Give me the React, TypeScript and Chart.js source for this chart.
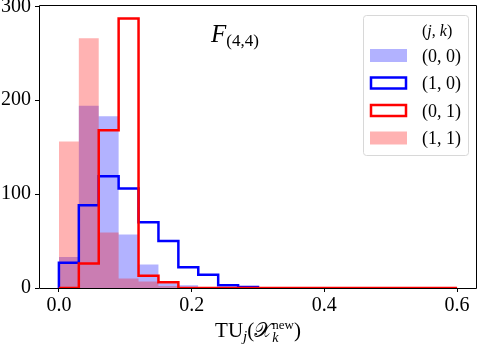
import React, { useEffect, useRef } from "react";
import { Chart, registerables } from "chart.js";

Chart.register(...registerables);

// Bin edges of the histograms (width 0.03)
const binEdges = [
  0, 0.03, 0.06, 0.09, 0.12, 0.15, 0.18, 0.21, 0.24, 0.27, 0.3,
  0.33, 0.36, 0.39, 0.42, 0.45, 0.48, 0.51, 0.54, 0.57, 0.6,
];

// Counts per bin for each (j, k) series
const counts00 = [33, 194, 183, 57, 25, 5, 3]; // filled blue
const counts10 = [27, 88, 119, 106, 70, 50, 22, 14, 3, 1]; // blue step
const counts01 = [0, 26, 168, 287, 13, 6, 0, 0, 0, 0, 0, 0, 0, 0, 0, 0, 0, 0, 0, 0]; // red step
const counts11 = [156, 266, 59, 10, 7, 2]; // filled red

const xTicks = [0, 0.2, 0.4, 0.6];
const xTickLabels = ["0.0", "0.2", "0.4", "0.6"];
const yTicks = [0, 100, 200, 300];
const yTickLabels = ["0", "100", "200", "300"];
const legendLabels = ["(0, 0)", "(1, 0)", "(0, 1)", "(1, 1)"];

const SERIF = "'Liberation Serif', 'DejaVu Serif', serif";

function stepPoints(counts: number[]) {
  const pts: { x: number; y: number }[] = [{ x: binEdges[0], y: 0 }];
  counts.forEach((c, i) => {
    pts.push({ x: binEdges[i], y: c });
    pts.push({ x: binEdges[i + 1], y: c });
  });
  pts.push({ x: binEdges[counts.length], y: 0 });
  return pts;
}

type Run = { text: string; font: string; dy?: number; stack?: { text: string; font: string; dy: number }[] };

function runsWidth(ctx: CanvasRenderingContext2D, runs: Run[]) {
  let w = 0;
  for (const r of runs) {
    if (r.stack) {
      let m = 0;
      for (const s of r.stack) {
        ctx.font = s.font;
        m = Math.max(m, ctx.measureText(s.text).width);
      }
      w += m;
    } else {
      ctx.font = r.font;
      w += ctx.measureText(r.text).width;
    }
  }
  return w;
}

function drawRuns(ctx: CanvasRenderingContext2D, runs: Run[], x: number, y: number) {
  let cx = x;
  for (const r of runs) {
    if (r.stack) {
      let m = 0;
      for (const s of r.stack) {
        ctx.font = s.font;
        ctx.fillText(s.text, cx, y + s.dy);
        m = Math.max(m, ctx.measureText(s.text).width);
      }
      cx += m;
    } else {
      ctx.font = r.font;
      ctx.fillText(r.text, cx, y + (r.dy || 0));
      cx += ctx.measureText(r.text).width;
    }
  }
}

const overlayPlugin = {
  id: "overlay",
  afterDraw(chart: any) {
    const ctx: CanvasRenderingContext2D = chart.ctx;
    const a = chart.chartArea;
    ctx.save();
    // spines
    ctx.strokeStyle = "#000";
    ctx.lineWidth = 1;
    ctx.beginPath();
    ctx.rect(Math.round(a.left) + 0.5, Math.round(a.top) + 0.5, Math.round(a.right - a.left) - 1, Math.round(a.bottom - a.top));
    ctx.stroke();

    ctx.fillStyle = "#000";
    ctx.textBaseline = "alphabetic";
    ctx.textAlign = "left";

    // in-plot title F_(4,4)
    drawRuns(ctx, [
      { text: "F", font: `italic 25px ${SERIF}` },
      { text: "(4,4)", font: `17px ${SERIF}`, dy: 4 },
    ], 211, 42);

    // x axis label
    const xl: Run[] = [
      { text: "TU", font: `21px ${SERIF}` },
      { text: "j", font: `italic 15px ${SERIF}`, dy: 4 },
      { text: "(", font: `21px ${SERIF}` },
      { text: "\u{1D4B3}", font: `21px ${SERIF}` },
      {
        text: "", font: "", stack: [
          { text: "k", font: `italic 14px ${SERIF}`, dy: 5 },
          { text: "new", font: `13px ${SERIF}`, dy: -8 },
        ],
      },
      { text: ")", font: `21px ${SERIF}` },
    ];
    const w = runsWidth(ctx, xl);
    drawRuns(ctx, xl, (a.left + a.right) / 2 - w / 2, 337);

    // legend
    const lx = 363.5, ly = 15.5, lw = 105, lh = 140, r = 3;
    ctx.beginPath();
    ctx.moveTo(lx + r, ly);
    ctx.lineTo(lx + lw - r, ly);
    ctx.arcTo(lx + lw, ly, lx + lw, ly + r, r);
    ctx.lineTo(lx + lw, ly + lh - r);
    ctx.arcTo(lx + lw, ly + lh, lx + lw - r, ly + lh, r);
    ctx.lineTo(lx + r, ly + lh);
    ctx.arcTo(lx, ly + lh, lx, ly + lh - r, r);
    ctx.lineTo(lx, ly + r);
    ctx.arcTo(lx, ly, lx + r, ly, r);
    ctx.closePath();
    ctx.fillStyle = "rgba(255,255,255,0.8)";
    ctx.fill();
    ctx.strokeStyle = "#d8d8d8";
    ctx.lineWidth = 1;
    ctx.stroke();

    ctx.fillStyle = "#000";
    drawRuns(ctx, [
      { text: "(", font: `16px ${SERIF}` },
      { text: "j", font: `italic 16px ${SERIF}` },
      { text: ", ", font: `16px ${SERIF}` },
      { text: "k", font: `italic 16px ${SERIF}` },
      { text: ")", font: `16px ${SERIF}` },
    ], 422, 36);

    const centers = [55.5, 83, 110.5, 138];
    const styles = [
      { fill: "rgba(0,0,255,0.3)" },
      { stroke: "#0000ff" },
      { stroke: "#ff0000" },
      { fill: "rgba(255,0,0,0.3)" },
    ];
    centers.forEach((cy, i) => {
      const s: any = styles[i];
      if (s.fill) {
        ctx.fillStyle = s.fill;
        ctx.fillRect(370, cy - 6.5, 37, 13);
      } else {
        ctx.strokeStyle = s.stroke;
        ctx.lineWidth = 2.5;
        ctx.strokeRect(371, cy - 5.5, 35, 11);
      }
      ctx.fillStyle = "#000";
      ctx.font = `18px ${SERIF}`;
      ctx.fillText(legendLabels[i], 422, cy + 6);
    });
    ctx.restore();
  },
};

export default function App() {
  const ref = useRef<HTMLCanvasElement | null>(null);
  useEffect(() => {
    document.body.style.margin = "0";
    const canvas = ref.current!;
    const chart = new Chart(canvas, {
      type: "scatter",
      data: {
        datasets: [
          {
            label: "(0, 0)",
            data: stepPoints(counts00),
            showLine: true,
            pointRadius: 0,
            borderWidth: 0,
            borderColor: "rgba(0,0,0,0)",
            backgroundColor: "rgba(0,0,255,0.3)",
            fill: "origin",
            order: 3,
          },
          {
            label: "(1, 0)",
            data: stepPoints(counts10),
            showLine: true,
            pointRadius: 0,
            borderWidth: 2.5,
            borderColor: "#0000ff",
            backgroundColor: "rgba(0,0,0,0)",
            fill: false,
            order: 1,
          },
          {
            label: "(0, 1)",
            data: stepPoints(counts01),
            showLine: true,
            pointRadius: 0,
            borderWidth: 2.5,
            borderColor: "#ff0000",
            backgroundColor: "rgba(0,0,0,0)",
            fill: false,
            order: 0,
          },
          {
            label: "(1, 1)",
            data: stepPoints(counts11),
            showLine: true,
            pointRadius: 0,
            borderWidth: 0,
            borderColor: "rgba(0,0,0,0)",
            backgroundColor: "rgba(255,0,0,0.3)",
            fill: "origin",
            order: 2,
          },
        ],
      },
      options: {
        animation: false,
        responsive: false,
        maintainAspectRatio: false,
        layout: { padding: { top: 5, right: 1, left: 0, bottom: 0 } },
        plugins: { legend: { display: false }, tooltip: { enabled: false } },
        elements: { line: { tension: 0, borderJoinStyle: "miter" } },
        scales: {
          x: {
            type: "linear",
            min: -0.03,
            max: 0.63,
            afterBuildTicks: (axis: any) => {
              axis.ticks = xTicks.map((v) => ({ value: v }));
            },
            afterFit: (scale: any) => {
              scale.height = 58;
              scale.paddingLeft = 0;
              scale.paddingRight = 0;
            },
            ticks: {
              callback: (v: any) => xTickLabels[xTicks.indexOf(Number(v))] ?? "",
              font: { family: SERIF, size: 20 },
              color: "#000",
              padding: 2,
              maxRotation: 0,
              autoSkip: false,
            },
            grid: { drawOnChartArea: false, drawTicks: true, tickLength: 4, color: "#000" },
            border: { display: false },
          },
          y: {
            type: "linear",
            min: 0,
            max: 301.35,
            afterBuildTicks: (axis: any) => {
              axis.ticks = yTicks.map((v) => ({ value: v }));
            },
            afterFit: (scale: any) => {
              scale.width = 39;
              scale.paddingTop = 0;
              scale.paddingBottom = 0;
            },
            ticks: {
              callback: (v: any) => yTickLabels[yTicks.indexOf(Number(v))] ?? "",
              font: { family: SERIF, size: 20 },
              color: "#000",
              padding: 4,
              autoSkip: false,
            },
            grid: { drawOnChartArea: false, drawTicks: true, tickLength: 4, color: "#000" },
            border: { display: false },
          },
        },
      },
      plugins: [overlayPlugin],
    } as any);
    return () => chart.destroy();
  }, []);
  return <canvas ref={ref} width={478} height={346} style={{ display: "block", width: 478, height: 346 }} />;
}
